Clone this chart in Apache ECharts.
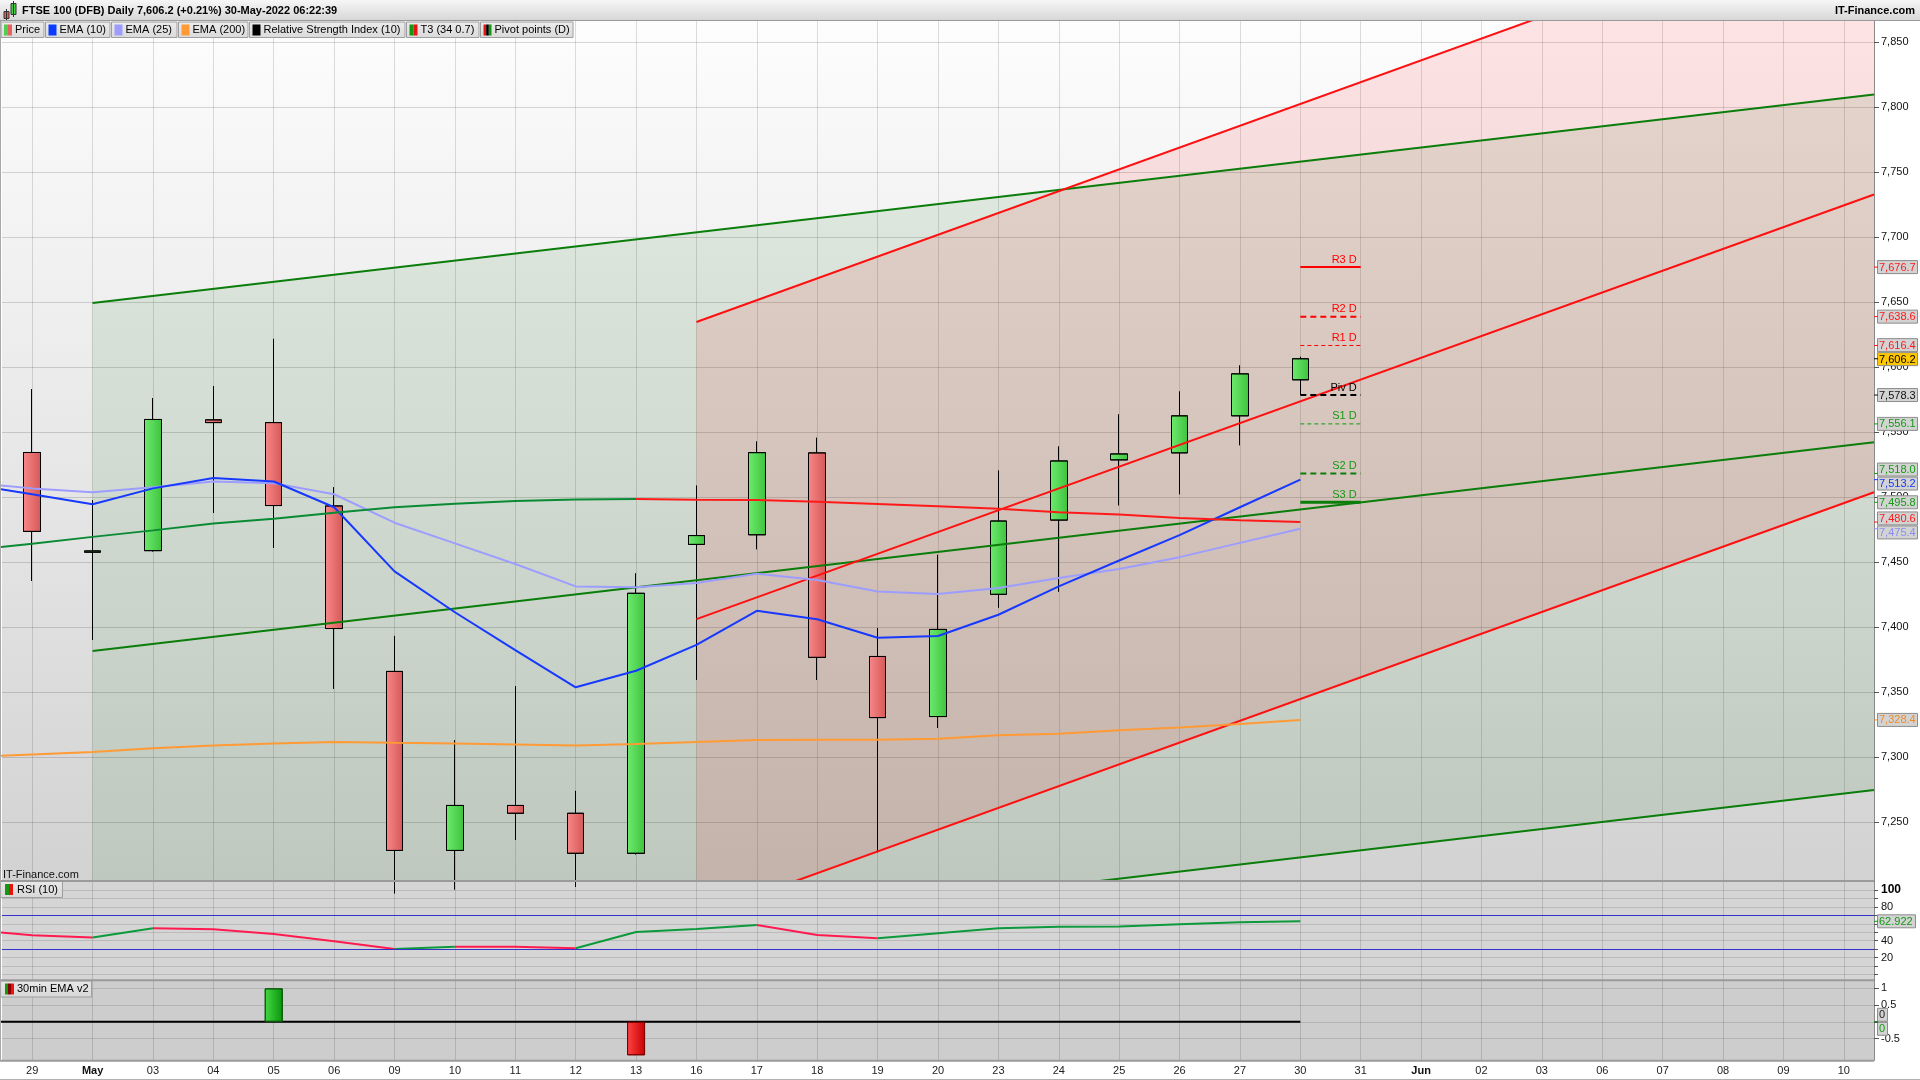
<!DOCTYPE html>
<html><head><meta charset="utf-8">
<script src="https://cdn.jsdelivr.net/npm/echarts@6/dist/echarts.min.js"></script>
<style>html,body{margin:0;padding:0;background:#fff;}#c{width:1920px;height:1080px;}</style>
</head><body><div id="c"></div>
<script>
// ---------------- DATA ----------------
const dateLabels = ['29','May','03','04','05','06','09','10','11','12','13','16','17','18','19','20','23','24','25','26','27','30','31','Jun','02','03','06','07','08','09','10'];
const tickPositions = [0,1,2,3,4,5,6,7,8,9,10,11,12,13,14,15,16,17,18,19,20,21,22,23,24,25,26,27,28,29,30];

const candleX     = [0,1,2,3,4,5,6,7,8,9,10,11,12,13,14,15,16,17,18,19,20,21];
const candleOpen  = [7534.1,7457.4,7458.6,7559.2,7557.1,7493.0,7365.7,7228.0,7262.6,7256.6,7225.8,7463.4,7470.8,7533.8,7377.2,7331.0,7425.0,7482.1,7528.4,7533.8,7562.3,7590.0];
const candleClose = [7473.4,7458.4,7559.5,7557.1,7493.3,7398.7,7228.0,7262.6,7256.6,7225.8,7425.8,7470.2,7534.0,7376.5,7330.2,7398.0,7481.4,7527.6,7533.0,7562.3,7594.6,7606.2];
const candleLow   = [7435.3,7390.0,7458.0,7487.7,7460.7,7352.4,7195.0,7198.0,7236.2,7200.0,7225.0,7359.3,7459.7,7359.2,7226.6,7322.2,7414.8,7427.1,7493.5,7502.0,7539.7,7578.7];
const candleHigh  = [7582.8,7497.3,7575.9,7585.2,7621.5,7507.3,7393.0,7312.7,7354.3,7273.8,7441.1,7508.6,7542.5,7545.4,7399.1,7455.4,7520.2,7538.7,7563.4,7581.0,7601.0,7607.7];

const indicatorX = [-1,0,1,2,3,4,5,6,7,8,9,10,11,12,13,14,15,16,17,18,19,20,21];
const ema10  = [7509.4,7502.0,7494.3,7506.5,7514.5,7511.8,7492.0,7442.7,7411.2,7382.1,7353.5,7366.2,7386.1,7412.3,7405.8,7391.6,7392.9,7409.3,7431.1,7451.0,7470.5,7492.0,7513.2];
const ema25  = [7510.7,7506.5,7503.6,7507.3,7511.8,7510.5,7502.0,7480.1,7464.2,7448.3,7431.1,7430.5,7433.7,7440.9,7436.1,7427.1,7425.3,7429.8,7437.5,7444.5,7453.6,7464.6,7475.4];
const ema200 = [7299.8,7301.8,7303.7,7306.6,7308.7,7310.3,7311.4,7310.8,7310.3,7309.5,7308.7,7309.8,7311.4,7313.0,7313.2,7313.2,7314.0,7316.6,7317.8,7320.4,7322.5,7325.3,7328.4];
const t3     = [7459.1,7463.9,7469.2,7474.2,7479.5,7483.2,7487.7,7492.0,7494.6,7496.7,7498.0,7498.3,7497.8,7497.6,7496.3,7494.5,7492.7,7490.8,7488.2,7486.4,7483.8,7482.0,7480.6];
const rsi    = [52.6,46.4,43.6,54.7,53.5,47.9,39.3,30.2,32.9,32.7,31.0,50.3,53.7,58.6,46.7,42.8,48.8,54.7,56.6,56.8,59.4,61.8,62.922];
const rsiLevels = [70, 30];
const ema30Line = [0,0,0,0,0,0,0,0,0,0,0,0,0,0,0,0,0,0,0,0,0,0,0];
const ema30Bars = [0,0,0,0,1,0,0,0,0,0,-1,0,0,0,0,0,0,0,0,0,0,0];

// regression channels: [x, price] end points
const greenTop = [[1, 7649.0], [30.5, 7809.5]];
const greenMid = [[1, 7381.5], [30.5, 7542.0]];
const greenBot = [[1, 7113.5], [30.5, 7274.5]];
const redTop   = [[11, 7634.5], [30.5, 7961.5]];
const redMid   = [[11, 7405.9], [30.5, 7732.5]];
const redBot   = [[11, 7177.0], [30.5, 7503.5]];

const pivotNames  = ['R3 D','R2 D','R1 D','Piv D','S1 D','S2 D','S3 D'];
const pivotValues = [7676.7, 7638.6, 7616.4, 7578.3, 7556.1, 7518.0, 7495.8];
const pivotSpan   = [21, 22];

const priceTicks = [7250,7300,7350,7400,7450,7500,7550,7600,7650,7700,7750,7800,7850];
const rsiGridTicks = [0,10,20,30,40,50,60,70,80,90,100];
const rsiLabelTicks = [20,40,80,100];
const emaPanelTicks = [-0.5,0,0.5,1];

const titleText = 'FTSE 100 (DFB) Daily 7,606.2 (+0.21%) 30-May-2022 06:22:39';
const legendItems = ['Price','EMA (10)','EMA (25)','EMA (200)','Relative Strength Index (10)','T3 (34 0.7)','Pivot points (D)'];

// ---------------- STYLE / LAYOUT ----------------
const FONT = 'Liberation Sans, Arial, sans-serif';
const PLOT_L = 2;
const PLOT_W = 1872;
const PLOT_R = PLOT_L + PLOT_W;
const G0 = {top: 21, height: 860};
const G1 = {top: 881, height: 99.3};
const G2 = {top: 980.3, height: 80};
const zip = (xs, ys) => xs.map((x, i) => [x, ys[i]]);
const LG = (a, b, vertical) => new echarts.graphic.LinearGradient(0, 0, vertical ? 0 : 1, vertical ? 1 : 0, [{offset: 0, color: a}, {offset: 1, color: b}]);

function segmented(xs, ys, upColor, downColor, common) {
  const out = [];
  let run = null, runUp = null;
  for (let i = 0; i < xs.length - 1; i++) {
    const up = ys[i + 1] >= ys[i];
    if (run && up === runUp) run.push([xs[i + 1], ys[i + 1]]);
    else { run = [[xs[i], ys[i]], [xs[i + 1], ys[i + 1]]]; runUp = up; out.push({run, up}); }
  }
  return out.map(o => Object.assign({}, common, {type: 'line', data: o.run, lineStyle: Object.assign({}, common.lineStyle, {color: o.up ? upColor : downColor})}));
}

function clipPoly(pts, x0, y0, x1, y1) {
  const inside = [p => p[0] >= x0, p => p[0] <= x1, p => p[1] >= y0, p => p[1] <= y1];
  const inter = [
    (a, b) => { const t = (x0 - a[0]) / (b[0] - a[0]); return [x0, a[1] + t * (b[1] - a[1])]; },
    (a, b) => { const t = (x1 - a[0]) / (b[0] - a[0]); return [x1, a[1] + t * (b[1] - a[1])]; },
    (a, b) => { const t = (y0 - a[1]) / (b[1] - a[1]); return [a[0] + t * (b[0] - a[0]), y0]; },
    (a, b) => { const t = (y1 - a[1]) / (b[1] - a[1]); return [a[0] + t * (b[0] - a[0]), y1]; }
  ];
  let out = pts;
  for (let e = 0; e < 4; e++) {
    const inp = out; out = [];
    for (let i = 0; i < inp.length; i++) {
      const cur = inp[i], prev = inp[(i + inp.length - 1) % inp.length];
      const ci = inside[e](cur), pi = inside[e](prev);
      if (ci) { if (!pi) out.push(inter[e](prev, cur)); out.push(cur); }
      else if (pi) out.push(inter[e](prev, cur));
    }
    if (!out.length) break;
  }
  return out;
}

const bands = [
  {top: greenTop, bot: greenBot, fill: 'rgba(0,105,0,0.095)'},
  {top: redTop, bot: redBot, fill: 'rgba(255,0,0,0.10)'}
];

const chart = echarts.init(document.getElementById('c'), null, {width: 1920, height: 1080});

const xAxisFor = (gi) => ({
  type: 'value', gridIndex: gi, min: -0.5, max: 30.5,
  axisLine: {show: gi === 2, onZero: false, lineStyle: {color: '#999', width: 1}},
  axisTick: {show: false, customValues: tickPositions},
  axisLabel: {
    show: gi === 2, customValues: tickPositions, fontSize: 11, color: '#222', margin: 5, fontFamily: FONT,
    formatter: v => { const s = dateLabels[Math.round(v)] || ''; return (s === 'May' || s === 'Jun') ? '{b|' + s + '}' : s; },
    rich: {b: {fontWeight: 'bold', fontSize: 11, color: '#111', fontFamily: FONT}}
  },
  splitLine: {show: true, lineStyle: {color: 'rgba(0,0,0,0.13)', width: 1}}
});

const lineCommon = {type: 'line', showSymbol: false, symbol: 'none', silent: true, clip: true, z: 3, xAxisIndex: 0, yAxisIndex: 0, lineStyle: {width: 2}};

const series = [];
// bands
series.push({
  type: 'custom', xAxisIndex: 0, yAxisIndex: 0, z: 1, silent: true, clip: true,
  data: bands.map(b => [b.top[0][0], b.top[0][1]]),
  renderItem: (params, api) => {
    const b = bands[params.dataIndex];
    const cs = params.coordSys;
    const pts = [api.coord(b.top[0]), api.coord(b.top[1]), api.coord(b.bot[1]), api.coord(b.bot[0])];
    const cp = clipPoly(pts, cs.x, cs.y, cs.x + cs.width, cs.y + cs.height);
    return {type: 'polygon', shape: {points: cp}, style: {fill: b.fill}};
  }
});
// channel lines
[[greenTop, '#0a7d0a'], [greenMid, '#0a7d0a'], [greenBot, '#0a7d0a'], [redTop, '#ff1010'], [redMid, '#ff1010'], [redBot, '#ff1010']].forEach(([d, c]) => {
  series.push(Object.assign({}, lineCommon, {data: d, lineStyle: {width: 2, color: c}}));
});
// candles
series.push({
  type: 'candlestick', xAxisIndex: 0, yAxisIndex: 0, z: 2, silent: true, barWidth: 17,
  encode: {x: 0, y: [1, 2, 3, 4]},
  data: candleX.map((x, i) => [x, candleOpen[i], candleClose[i], candleLow[i], candleHigh[i]]),
  itemStyle: {
    color: LG('#6eea6e', '#3ec33e'), color0: LG('#f88888', '#d65858'),
    borderColor: '#000', borderColor0: '#000', borderWidth: 1
  }
});
// EMAs
series.push(Object.assign({}, lineCommon, {data: zip(indicatorX, ema200), lineStyle: {width: 2, color: '#ff9a35'}}));
series.push(Object.assign({}, lineCommon, {data: zip(indicatorX, ema25), lineStyle: {width: 2, color: '#9d9dff'}}));
series.push(Object.assign({}, lineCommon, {data: zip(indicatorX, ema10), lineStyle: {width: 2, color: '#1638ff'}}));
// T3
segmented(indicatorX, t3, '#0b8a35', '#ff1a1a', lineCommon).forEach(s => series.push(s));
// pivots
const pivotStyles = [
  {color: '#ff0000', width: 2, type: 'solid'},
  {color: '#ff0000', width: 2, type: [6, 4]},
  {color: '#ff0000', width: 1, type: [4, 3]},
  {color: '#000000', width: 2, type: [6, 4]},
  {color: '#139a13', width: 1, type: [4, 3]},
  {color: '#0a7d0a', width: 2, type: [6, 4]},
  {color: '#0a7d0a', width: 3, type: 'solid'}
];
pivotValues.forEach((v, i) => {
  series.push(Object.assign({}, lineCommon, {z: 5, data: [[pivotSpan[0], v], [pivotSpan[1], v]], lineStyle: pivotStyles[i]}));
});
// RSI
const rsiCommon = Object.assign({}, lineCommon, {xAxisIndex: 1, yAxisIndex: 1});
const rsiSeries = segmented(indicatorX, rsi, '#0c9a3c', '#ff1a4f', rsiCommon);
rsiSeries[0].markLine = {silent: true, symbol: 'none', label: {show: false}, lineStyle: {color: '#3333cc', width: 1, type: 'solid'}, data: rsiLevels.map(v => ({yAxis: v}))};
rsiSeries.forEach(s => series.push(s));
// 30min EMA panel
series.push(Object.assign({}, lineCommon, {xAxisIndex: 2, yAxisIndex: 2, data: zip(indicatorX, ema30Line), lineStyle: {width: 2, color: '#000'}}));
series.push({
  type: 'bar', xAxisIndex: 2, yAxisIndex: 2, barWidth: 18, silent: true, z: 4,
  data: candleX.map((x, i) => ema30Bars[i] === 0 ? {value: [x, '-']} : ({
    value: [x, ema30Bars[i]],
    itemStyle: ema30Bars[i] > 0
      ? {color: LG('#44d844', '#0b950b'), borderColor: '#0a5a0a', borderWidth: 1}
      : {color: LG('#ff4444', '#c80000'), borderColor: '#7a0000', borderWidth: 1}
  }))
});

const yAxisLine = {show: true, onZero: false, lineStyle: {color: '#8a8a8a'}};
const option = {
  animation: false,
  backgroundColor: '#ffffff',
  textStyle: {fontFamily: FONT},
  grid: [
    {left: PLOT_L, top: G0.top, width: PLOT_W, height: G0.height, show: true, borderWidth: 0, containLabel: false, outerBoundsMode: 'none',
      backgroundColor: {type: 'linear', x: 0, y: 0, x2: 0, y2: 1, colorStops: [{offset: 0, color: '#fdfdfd'}, {offset: 1, color: '#d2d2d2'}]}},
    {left: PLOT_L, top: G1.top, width: PLOT_W, height: G1.height, show: true, borderWidth: 0, containLabel: false, outerBoundsMode: 'none', backgroundColor: '#d5d5d5'},
    {left: PLOT_L, top: G2.top, width: PLOT_W, height: G2.height, show: true, borderWidth: 0, containLabel: false, outerBoundsMode: 'none', backgroundColor: '#cdcdcd'}
  ],
  xAxis: [xAxisFor(0), xAxisFor(1), xAxisFor(2)],
  yAxis: [
    {type: 'value', gridIndex: 0, position: 'right', min: 7204.5, max: 7866,
      axisLine: yAxisLine,
      axisTick: {show: true, customValues: priceTicks, length: 5, lineStyle: {color: '#555'}},
      axisLabel: {customValues: priceTicks, formatter: v => v.toLocaleString('en-US'), color: '#111', fontSize: 11, margin: 7, fontFamily: FONT},
      splitLine: {show: true, lineStyle: {color: 'rgba(0,0,0,0.15)', width: 1}}},
    {type: 'value', gridIndex: 1, position: 'right', min: -7, max: 110.7,
      axisLine: yAxisLine,
      axisTick: {show: true, customValues: rsiGridTicks, length: 4, lineStyle: {color: '#555'}},
      axisLabel: {customValues: rsiLabelTicks, color: '#111', fontSize: 11, margin: 7, fontFamily: FONT,
        formatter: v => v === 100 ? '{b|100}' : String(v), rich: {b: {fontWeight: 'bold', fontSize: 12, color: '#000', fontFamily: FONT}}},
      splitLine: {show: true, lineStyle: {color: 'rgba(0,0,0,0.12)', width: 1}}},
    {type: 'value', gridIndex: 2, position: 'right', min: -1.15, max: 1.24,
      axisLine: yAxisLine,
      axisTick: {show: true, customValues: emaPanelTicks, length: 5, lineStyle: {color: '#555'}},
      axisLabel: {customValues: emaPanelTicks, color: '#111', fontSize: 11, margin: 7, fontFamily: FONT, formatter: v => String(v)},
      splitLine: {show: true, lineStyle: {color: 'rgba(0,0,0,0.12)', width: 1}}}
  ],
  series: series
};
chart.setOption(option);

// ---------------- GRAPHICS (header, legend, tags) ----------------
const gfx = [];
const Z = 100;
const txt = (x, y, s, o) => Object.assign({type: 'text', z: Z + 2, silent: true, style: Object.assign({text: s, x: x, y: y, fill: '#000', font: '11px ' + FONT, textVerticalAlign: 'middle', textAlign: 'left'}, o || {})});
const rect = (x, y, w, h, fill, stroke, lw) => ({type: 'rect', z: Z, silent: true, shape: {x: x, y: y, width: w, height: h}, style: {fill: fill, stroke: stroke || null, lineWidth: lw || 1}});
const line = (x1, y1, x2, y2, c, w) => ({type: 'line', z: Z + 1, silent: true, shape: {x1, y1, x2, y2}, style: {stroke: c, lineWidth: w || 1}});

// header
gfx.push(rect(0, 0, 1920, 21, LG('#f6f6f6', '#d6d6d6', true)));
gfx.push(line(0, 20.5, 1920, 20.5, '#9a9a9a', 1));
gfx.push(line(6.5, 9, 6.5, 20, '#333', 1));
gfx.push(rect(4, 11.5, 5, 7, '#e55a5a', '#333', 1));
gfx.push(line(13.5, 1, 13.5, 17, '#333', 1));
gfx.push(rect(11, 3.5, 5, 11, '#44cc44', '#333', 1));
gfx.push(txt(22, 11, titleText, {font: 'bold 11px ' + FONT}));
gfx.push(txt(1915, 11, 'IT-Finance.com', {font: 'bold 11px ' + FONT, textAlign: 'right'}));

// legend
const legendBoxes = [[1, 44], [45.5, 110], [111.5, 177], [178.5, 248], [249.5, 405], [406.5, 479], [480.5, 573]];
const swatches = [
  ['#55cc55', '#e86060'], ['#0a3cff'], ['#9d9dff'], ['#ff9a35'], ['#000000'], ['#119911', '#ee1111'], ['#ee1111', '#000000', '#119911']
];
legendBoxes.forEach((b, i) => {
  gfx.push(rect(b[0], 22, b[1] - b[0], 15.5, LG('#ececec', '#dadada', true), '#9e9e9e', 1));
  const cols = swatches[i];
  const sw = 8 / cols.length;
  cols.forEach((c, k) => gfx.push(Object.assign(rect(b[0] + 3 + k * sw, 24.5, sw, 11, c), {z: Z + 1})));
  gfx.push(txt(b[0] + 14, 30, legendItems[i]));
});

// panel labels
gfx.push(rect(0.5, 881.5, 62, 16, LG('#e8e8e8', '#d8d8d8', true), '#9e9e9e', 1));
gfx.push(Object.assign(rect(5, 884, 4, 11, '#119911'), {z: Z + 1}));
gfx.push(Object.assign(rect(9, 884, 4, 11, '#ee1111'), {z: Z + 1}));
gfx.push(txt(17, 889.5, 'RSI (10)'));
gfx.push(rect(0.5, 981, 91, 16, LG('#e8e8e8', '#d8d8d8', true), '#9e9e9e', 1));
gfx.push(Object.assign(rect(5, 983.5, 3, 11, '#119911'), {z: Z + 1}));
gfx.push(Object.assign(rect(8, 983.5, 3, 11, '#880000'), {z: Z + 1}));
gfx.push(Object.assign(rect(11, 983.5, 3, 11, '#ee1111'), {z: Z + 1}));
gfx.push(txt(17, 989, '30min EMA v2'));
gfx.push(txt(3, 874.5, 'IT-Finance.com', {fill: '#111'}));

// panel separators / borders
gfx.push(line(0, 881, PLOT_R, 881, '#9a9a9a', 2));
gfx.push(line(0, 980.3, PLOT_R, 980.3, '#9a9a9a', 2));
gfx.push(line(0, 1060.8, PLOT_R, 1060.8, '#9a9a9a', 2));
gfx.push(line(0.5, 21, 0.5, 1061, '#a8a8a8', 1));
gfx.push(line(0, 1079.5, 1920, 1079.5, '#b0b0b0', 1));

// pivot labels
const pivotTextColors = ['#ff0000', '#ff0000', '#ff0000', '#000000', '#139a13', '#139a13', '#139a13'];
pivotValues.forEach((v, i) => {
  const p = chart.convertToPixel({xAxisIndex: 0, yAxisIndex: 0}, [pivotSpan[1], v]);
  gfx.push(Object.assign(txt(p[0] - 4, p[1] - 2, pivotNames[i], {fill: pivotTextColors[i], textVerticalAlign: 'bottom', textAlign: 'right'}), {z: 50}));
});

// axis tags
const fmt1 = v => v.toLocaleString('en-US', {minimumFractionDigits: 1, maximumFractionDigits: 1});
function spread(items, h) {
  items.sort((a, b) => a.y - b.y);
  items.forEach(it => it.ty = it.y);
  for (let it = 0; it < 200; it++) {
    let moved = false;
    for (let i = 0; i < items.length - 1; i++) {
      const a = items[i], b = items[i + 1];
      const ov = h - (b.ty - a.ty);
      if (ov > 0.01) { a.ty -= ov / 2; b.ty += ov / 2; moved = true; }
    }
    if (!moved) break;
  }
}
function drawTags(items, w) {
  spread(items, 14);
  items.forEach(t => {
    gfx.push(line(PLOT_R, t.y, PLOT_R + 4, t.y, t.color, 1));
    gfx.push(rect(PLOT_R + 3.5, t.ty - 6.5, w, 13, t.bg || '#d3d3d3', '#8c8c8c', 1));
    gfx.push(txt(PLOT_R + 5, t.ty + 0.5, t.text, {fill: t.color}));
  });
}
const yPix = (ai, v) => chart.convertToPixel({yAxisIndex: ai}, v);
const mainTags = [
  {v: pivotValues[0], color: '#ff1a1a'}, {v: pivotValues[1], color: '#ff1a1a'}, {v: pivotValues[2], color: '#ff1a1a'},
  {v: candleClose[candleClose.length - 1], color: '#000000', bg: '#ffc800'},
  {v: pivotValues[3], color: '#111111'}, {v: pivotValues[4], color: '#139a13'}, {v: pivotValues[5], color: '#139a13'},
  {v: ema10[ema10.length - 1], color: '#1638ff'}, {v: pivotValues[6], color: '#139a13'},
  {v: t3[t3.length - 1], color: '#ff1a1a'}, {v: ema25[ema25.length - 1], color: '#8c8cf0'},
  {v: ema200[ema200.length - 1], color: '#f08a25'}
].map(t => Object.assign(t, {y: yPix(0, t.v), text: fmt1(t.v)}));
drawTags(mainTags, 40);
drawTags([{v: rsi[rsi.length - 1], y: yPix(1, rsi[rsi.length - 1]), text: rsi[rsi.length - 1].toFixed(3), color: '#139a13'}], 38);
drawTags([
  {v: ema30Line[ema30Line.length - 1], y: yPix(2, ema30Line[ema30Line.length - 1]), text: '0', color: '#222'},
  {v: ema30Bars[ema30Bars.length - 1], y: yPix(2, ema30Bars[ema30Bars.length - 1]) + 0.01, text: '0', color: '#139a13'}
], 10);

chart.setOption({graphic: {elements: gfx}});
</script></body></html>
